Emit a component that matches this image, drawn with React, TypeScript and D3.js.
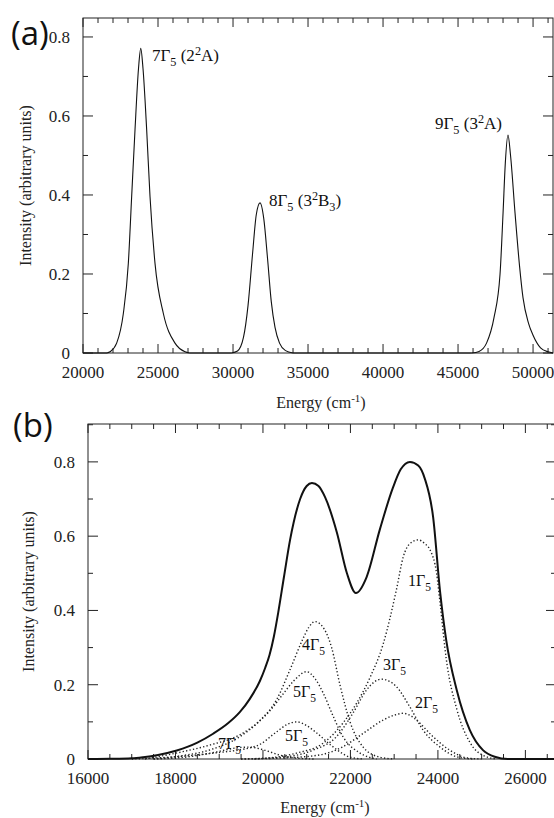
import React from "react";
import * as d3 from "d3";

const W = 554;
const H = 818;
const SERIF = "'Liberation Serif', 'Times New Roman', serif";
const SANS = "'Open Sans', 'Noto Sans', sans-serif";

// ---------------- Panel (a) data ----------------
const aXDomain = [20000, 51330];
const aYDomain = [0, 0.848];
const aXTicks = [20000, 25000, 30000, 35000, 40000, 45000, 50000];
const aXTickLabels = ["20000", "25000", "30000", "35000", "40000", "45000", "50000"];
const aXMinorStep = 1000;
const aYTicks = [0, 0.2, 0.4, 0.6, 0.8];
const aYTickLabels = ["0", "0.2", "0.4", "0.6", "0.8"];
const aYMinorStep = 0.1;

const aBaseline: [number, number][] = [[20000, 0], [21600, 0]];
const aPeak7: [number, number][] = [
  [21600, 0], [21800, 0.003], [22244, 0.025], [22689, 0.1], [23022, 0.227], [23244, 0.396],
  [23467, 0.565], [23700, 0.72], [23850, 0.771], [24000, 0.72], [24244, 0.565], [24467, 0.396],
  [24800, 0.227], [25356, 0.1], [26133, 0.025], [26800, 0.003], [27100, 0],
];
const aGap1: [number, number][] = [[27100, 0], [29900, 0]];
const aPeak8: [number, number][] = [
  [29900, 0], [30300, 0.005], [30700, 0.04], [31000, 0.12], [31300, 0.25], [31550, 0.35],
  [31800, 0.38], [32050, 0.34], [32300, 0.24], [32550, 0.13], [32800, 0.065], [33100, 0.025],
  [33500, 0.006], [34000, 0],
];
const aGap2: [number, number][] = [[34000, 0], [45900, 0]];
const aPeak9: [number, number][] = [
  [45900, 0], [46400, 0.004], [46900, 0.025], [47400, 0.09], [47800, 0.2], [48000, 0.354],
  [48150, 0.48], [48330, 0.552], [48500, 0.5], [48800, 0.354], [49100, 0.22], [49330, 0.14],
  [49700, 0.075], [50000, 0.045], [50500, 0.013], [51000, 0.003], [51330, 0],
];
const aLabels = [
  { e: 24600, i: 0.739, segs: [{ t: "7Γ" }, { t: "5", s: "sub" }, { t: " (2" }, { t: "2", s: "sup" }, { t: "A)" }] },
  { e: 32400, i: 0.372, segs: [{ t: "8Γ" }, { t: "5", s: "sub" }, { t: " (3" }, { t: "2", s: "sup" }, { t: "B" }, { t: "3", s: "sub" }, { t: ")" }] },
  { e: 43467, i: 0.567, segs: [{ t: "9Γ" }, { t: "5", s: "sub" }, { t: " (3" }, { t: "2", s: "sup" }, { t: "A)" }] },
];

// ---------------- Panel (b) data ----------------
const bXDomain = [16000, 26700];
const bYDomain = [0, 0.902];
const bXTicks = [16000, 18000, 20000, 22000, 24000, 26000];
const bXTickLabels = ["16000", "18000", "20000", "22000", "24000", "26000"];
const bXMinorStep = 500;
const bYTicks = [0, 0.2, 0.4, 0.6, 0.8];
const bYTickLabels = ["0", "0.2", "0.4", "0.6", "0.8"];
const bYMinorStep = 0.1;

const bTotal: [number, number][] = [
  [16000, 0], [16500, 0.0005], [17000, 0.002], [17260, 0.005], [17600, 0.011], [18030, 0.023],
  [18500, 0.044], [18860, 0.068], [19200, 0.096], [19470, 0.126], [19700, 0.162], [19930, 0.21],
  [20050, 0.245], [20150, 0.28], [20250, 0.33], [20350, 0.395], [20480, 0.49], [20620, 0.59],
  [20850, 0.7], [21000, 0.735], [21120, 0.743], [21270, 0.735], [21420, 0.705], [21690, 0.61],
  [21920, 0.5], [22125, 0.447], [22370, 0.49], [22670, 0.617], [22970, 0.73], [23150, 0.78],
  [23360, 0.8], [23550, 0.79], [23700, 0.755], [23890, 0.652], [24050, 0.45], [24190, 0.32],
  [24430, 0.186], [24730, 0.078], [25030, 0.024], [25300, 0.006], [25600, 0], [26700, 0],
];
const b1G5: [number, number][] = [
  [19800, 0], [20300, 0.005], [20770, 0.016], [21380, 0.043], [21830, 0.097], [22140, 0.15],
  [22450, 0.22], [22750, 0.31], [23050, 0.455], [23210, 0.545], [23360, 0.58], [23550, 0.59],
  [23700, 0.58], [23820, 0.563], [23970, 0.5], [24050, 0.42], [24190, 0.27], [24430, 0.135],
  [24730, 0.045], [25030, 0.01], [25350, 0],
];
const b2G5: [number, number][] = [
  [19500, 0], [20500, 0.003], [21300, 0.011], [21830, 0.033], [22290, 0.069], [22750, 0.105],
  [23000, 0.118], [23210, 0.123], [23400, 0.115], [23510, 0.105], [23890, 0.06], [24270, 0.024],
  [24660, 0.003], [25000, 0],
];
const b3G5: [number, number][] = [
  [19500, 0], [20000, 0.002], [20540, 0.006], [21150, 0.024], [21680, 0.06], [22060, 0.124],
  [22370, 0.186], [22550, 0.208], [22710, 0.215], [22880, 0.21], [23050, 0.195], [23360, 0.14],
  [23660, 0.078], [24050, 0.032], [24430, 0.006], [24800, 0],
];
const b4G5: [number, number][] = [
  [17500, 0], [18100, 0.008], [18800, 0.025], [19470, 0.06], [19900, 0.1], [20313, 0.16],
  [20617, 0.24], [20900, 0.32], [21050, 0.355], [21190, 0.37], [21400, 0.35], [21570, 0.3],
  [21760, 0.2], [21990, 0.1], [22290, 0.032], [22670, 0.005], [23000, 0],
];
const b5G5a: [number, number][] = [
  [17300, 0], [18100, 0.018], [18800, 0.038], [19470, 0.065], [19900, 0.1], [20160, 0.13],
  [20460, 0.175], [20700, 0.21], [21000, 0.235], [21200, 0.215], [21380, 0.177], [21610, 0.114],
  [21830, 0.06], [22220, 0.016], [22600, 0],
];
const b5G5b: [number, number][] = [
  [17000, 0], [18000, 0.006], [18800, 0.015], [19850, 0.035], [20310, 0.073], [20550, 0.093],
  [20770, 0.1], [21000, 0.09], [21230, 0.07], [21610, 0.032], [21990, 0.005], [22300, 0],
];
const b7G5: [number, number][] = [
  [17500, 0], [18300, 0.006], [18900, 0.018], [19400, 0.03], [19700, 0.032], [20000, 0.025],
  [20400, 0.01], [20800, 0.002], [21200, 0],
];
const bComponents = [b1G5, b2G5, b3G5, b4G5, b5G5a, b5G5b, b7G5];
const bLabels = [
  { e: 23314, i: 0.466, segs: [{ t: "1Γ" }, { t: "5", s: "sub" }] },
  { e: 20891, i: 0.293, segs: [{ t: "4Γ" }, { t: "5", s: "sub" }] },
  { e: 22743, i: 0.24, segs: [{ t: "3Γ" }, { t: "5", s: "sub" }] },
  { e: 20686, i: 0.167, segs: [{ t: "5Γ" }, { t: "5", s: "sub" }] },
  { e: 23474, i: 0.137, segs: [{ t: "2Γ" }, { t: "5", s: "sub" }] },
  { e: 20503, i: 0.048, segs: [{ t: "5Γ" }, { t: "5", s: "sub" }] },
  { e: 18971, i: 0.027, segs: [{ t: "7Γ" }, { t: "5", s: "sub" }] },
];

type Seg = { t: string; s?: string };

function Rich({ x, y, segs, size }: { x: number; y: number; segs: Seg[]; size: number }) {
  let cur = 0;
  return (
    <text x={x} y={y} fontSize={size} fontFamily={SERIF} fill="#111" style={{ whiteSpace: "pre" }}>
      {segs.map((sg, k) => {
        const target = sg.s === "sub" ? size * 0.3 : sg.s === "sup" ? -size * 0.38 : 0;
        const dy = target - cur;
        cur = target;
        return (
          <tspan key={k} dy={dy} fontSize={sg.s ? size * 0.72 : size}>
            {sg.t}
          </tspan>
        );
      })}
    </text>
  );
}

function Frame({
  box, x, y, xTicks, xTickLabels, xMinor, yTicks, yTickLabels, yMinor, xTitleY, yTitleX,
}: any) {
  const [x0, x1] = x.domain();
  const [y0, y1] = y.domain();
  const minX = d3.range(x0, x1 + 1e-6, xMinor).filter((v: number) => !xTicks.some((t: number) => Math.abs(t - v) < 1e-6));
  const minY = d3.range(y0, y1 + 1e-9, yMinor).filter((v: number) => !yTicks.some((t: number) => Math.abs(t - v) < 1e-6));
  const MJ = 9;
  const MN = 5;
  const st = "#222";
  return (
    <g>
      <rect x={box.l} y={box.t} width={box.r - box.l} height={box.b - box.t} fill="none" stroke={st} strokeWidth={1} />
      {xTicks.map((v: number, k: number) => (
        <g key={"xt" + k}>
          <line x1={x(v)} x2={x(v)} y1={box.b} y2={box.b - MJ} stroke={st} />
          <line x1={x(v)} x2={x(v)} y1={box.t} y2={box.t + MJ} stroke={st} />
          <text x={x(v)} y={box.b + 25} textAnchor="middle" fontSize={17} fontFamily={SERIF} fill="#222">
            {xTickLabels[k]}
          </text>
        </g>
      ))}
      {minX.map((v: number, k: number) => (
        <g key={"xm" + k}>
          <line x1={x(v)} x2={x(v)} y1={box.b} y2={box.b - MN} stroke={st} />
          <line x1={x(v)} x2={x(v)} y1={box.t} y2={box.t + MN} stroke={st} />
        </g>
      ))}
      {yTicks.map((v: number, k: number) => (
        <g key={"yt" + k}>
          <line x1={box.l} x2={box.l + MJ + 1} y1={y(v)} y2={y(v)} stroke={st} />
          <line x1={box.r} x2={box.r - MJ - 1} y1={y(v)} y2={y(v)} stroke={st} />
          <text x={box.l - 13} y={y(v)} dy="0.35em" textAnchor="end" fontSize={17} fontFamily={SERIF} fill="#222">
            {yTickLabels[k]}
          </text>
        </g>
      ))}
      {minY.map((v: number, k: number) => (
        <g key={"ym" + k}>
          <line x1={box.l} x2={box.l + MN} y1={y(v)} y2={y(v)} stroke={st} />
          <line x1={box.r} x2={box.r - MN} y1={y(v)} y2={y(v)} stroke={st} />
        </g>
      ))}
      <text x={(box.l + box.r) / 2 + 3} y={xTitleY} textAnchor="middle" fontSize={16} fontFamily={SERIF} fill="#222" style={{ whiteSpace: "pre" }}>
        Energy (cm
        <tspan dy={-6} fontSize={11}>-1</tspan>
        <tspan dy={6}>)</tspan>
      </text>
      <text
        transform={`translate(${yTitleX},${(box.t + box.b) / 2}) rotate(-90)`}
        textAnchor="middle"
        fontSize={16}
        fontFamily={SERIF}
        fill="#222"
      >
        Intensity (arbitrary units)
      </text>
    </g>
  );
}

export default function App() {
  // Panel (a)
  const boxA = { l: 83, r: 553, t: 18, b: 353 };
  const xA = d3.scaleLinear().domain(aXDomain).range([boxA.l, boxA.r]);
  const yA = d3.scaleLinear().domain(aYDomain).range([boxA.b, boxA.t]);
  const lineA = d3
    .line<[number, number]>()
    .x((d) => xA(d[0]))
    .y((d) => yA(d[1]))
    .curve(d3.curveMonotoneX);

  // Panel (b)
  const boxB = { l: 88, r: 556, t: 424, b: 759 };
  const xB = d3.scaleLinear().domain(bXDomain).range([boxB.l, boxB.r]);
  const yB = d3.scaleLinear().domain(bYDomain).range([boxB.b, boxB.t]);
  const lineB = d3
    .line<[number, number]>()
    .x((d) => xB(d[0]))
    .y((d) => yB(d[1]))
    .curve(d3.curveMonotoneX);

  const aSpectrum = [aBaseline, aPeak7, aGap1, aPeak8, aGap2, aPeak9];

  return (
    <svg width={W} height={H} style={{ position: "absolute", left: 0, top: 0, background: "#fff" }}>
      <rect x={0} y={0} width={W} height={H} fill="#fff" />
      <defs>
        <clipPath id="clipA">
          <rect x={boxA.l} y={boxA.t} width={boxA.r - boxA.l} height={boxA.b - boxA.t + 1} />
        </clipPath>
        <clipPath id="clipB">
          <rect x={boxB.l} y={boxB.t} width={boxB.r - boxB.l} height={boxB.b - boxB.t + 1} />
        </clipPath>
      </defs>

      {/* Panel (a) */}
      <Frame
        box={boxA}
        x={xA}
        y={yA}
        xTicks={aXTicks}
        xTickLabels={aXTickLabels}
        xMinor={aXMinorStep}
        yTicks={aYTicks}
        yTickLabels={aYTickLabels}
        yMinor={aYMinorStep}
        xTitleY={408}
        yTitleX={31}
      />
      <g clipPath="url(#clipA)">
        {aSpectrum.map((s, k) => (
          <path key={k} d={lineA(s) || ""} fill="none" stroke="#111" strokeWidth={1.1} />
        ))}
      </g>
      {aLabels.map((lb, k) => (
        <Rich key={k} x={xA(lb.e)} y={yA(lb.i)} segs={lb.segs} size={17} />
      ))}
      <text x={11} y={45} fontSize={33} fontFamily={SANS} fill="#111">
        (a)
      </text>

      {/* Panel (b) */}
      <Frame
        box={boxB}
        x={xB}
        y={yB}
        xTicks={bXTicks}
        xTickLabels={bXTickLabels}
        xMinor={bXMinorStep}
        yTicks={bYTicks}
        yTickLabels={bYTickLabels}
        yMinor={bYMinorStep}
        xTitleY={813}
        yTitleX={34}
      />
      <g clipPath="url(#clipB)">
        {bComponents.map((s, k) => (
          <path
            key={k}
            d={lineB(s) || ""}
            fill="none"
            stroke="#222"
            strokeWidth={1.4}
            strokeDasharray="1.3 2.2"
          />
        ))}
        <path d={lineB(bTotal) || ""} fill="none" stroke="#111" strokeWidth={2} />
      </g>
      {bLabels.map((lb, k) => (
        <Rich key={k} x={xB(lb.e)} y={yB(lb.i)} segs={lb.segs} size={16} />
      ))}
      <text x={13} y={437} fontSize={33} fontFamily={SANS} fill="#111">
        (b)
      </text>
    </svg>
  );
}
